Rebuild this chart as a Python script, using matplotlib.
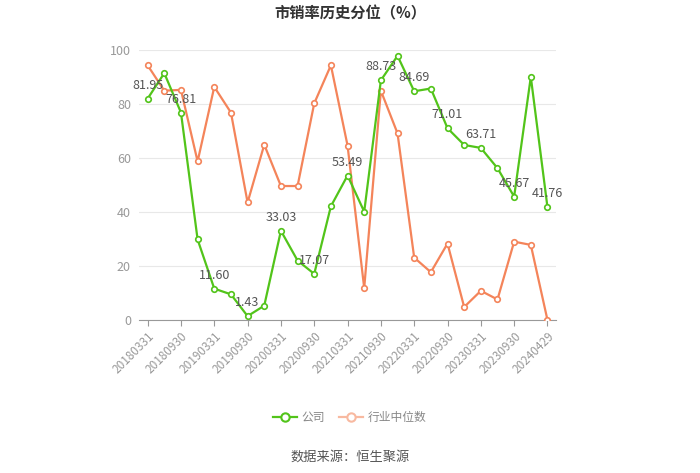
import matplotlib
matplotlib.use("Agg")
import matplotlib.pyplot as plt
from matplotlib.lines import Line2D

plt.rcParams['font.family'] = ['Noto Sans CJK SC', 'DejaVu Sans']

dates = ["20180331", "20180630", "20180930", "20181231", "20190331", "20190630",
         "20190930", "20191231", "20200331", "20200630", "20200930", "20201231",
         "20210331", "20210630", "20210930", "20211231", "20220331", "20220630",
         "20220930", "20221231", "20230331", "20230630", "20230930", "20231231",
         "20240429"]
company = [81.95, 91.4, 76.81, 29.8, 11.60, 9.5, 1.43, 5.3, 33.03, 22.0, 17.07, 42.1,
           53.49, 40.1, 88.73, 97.8, 84.69, 85.7, 71.01, 64.8, 63.71, 56.2, 45.67, 90.0,
           41.76]
industry = [94.3, 84.9, 85.2, 58.7, 86.3, 76.8, 43.5, 64.9, 49.6, 49.6, 80.2, 94.3,
            64.6, 11.8, 84.9, 69.1, 23.1, 17.7, 28.3, 4.8, 10.8, 7.6, 29.0, 27.8, 0.0]

green = '#52c41a'
orange = '#f4845a'

fig = plt.figure(figsize=(7, 4.73), dpi=100)
ax = fig.add_axes([0.199, 0.3235, 0.595, 0.571])

x = list(range(len(dates)))
ax.plot(x, industry, color=orange, lw=1.6, marker='o', ms=4, mfc='white', mec=orange, mew=1.2, zorder=3)
ax.plot(x, company, color=green, lw=1.6, marker='o', ms=4, mfc='white', mec=green, mew=1.2, zorder=4)

for i in range(0, len(dates), 2):
    ax.annotate(f"{company[i]:.2f}", (i, company[i]), xytext=(0, 5), textcoords='offset points',
                ha='center', va='bottom', fontsize=9, color='#555555', zorder=5)

ax.set_xlim(-0.5, len(dates) - 0.5)
ax.set_ylim(0, 100)
ax.set_yticks([0, 20, 40, 60, 80, 100])
ax.set_xticks(x[::2])
ax.set_xticklabels(dates[::2], rotation=45, ha='right', rotation_mode='anchor')
ax.tick_params(axis='x', colors='#999999', labelsize=8.5, length=4, color='#999999', pad=3)
ax.tick_params(axis='y', colors='#999999', labelsize=9, length=0, pad=6)
ax.grid(axis='y', color='#e8e8e8', lw=0.8)
ax.set_axisbelow(True)
for s in ['top', 'right', 'left']:
    ax.spines[s].set_visible(False)
ax.spines['bottom'].set_color('#999999')

fig.text(0.5, 0.972, "市销率历史分位（%）", ha='center', va='center', fontsize=11,
         fontweight='bold', color='#333333')

handles = [Line2D([], [], color=green, lw=1.6, marker='o', ms=6, mfc='white', mec=green, mew=1.5),
           Line2D([], [], color='#f8b9a0', lw=1.6, marker='o', ms=6, mfc='white', mec='#f8b9a0', mew=1.5)]
fig.legend(handles, ["公司", "行业中位数"], loc='center', bbox_to_anchor=(0.5, 0.118), ncol=2,
           frameon=False, fontsize=8.5, labelcolor='#888888', handlelength=2.0, columnspacing=1.2,
           handletextpad=0.4)

fig.text(0.5, 0.034, "数据来源：恒生聚源", ha='center', va='center', fontsize=9.5, color='#555555')

fig.savefig("out.png", dpi=100)
